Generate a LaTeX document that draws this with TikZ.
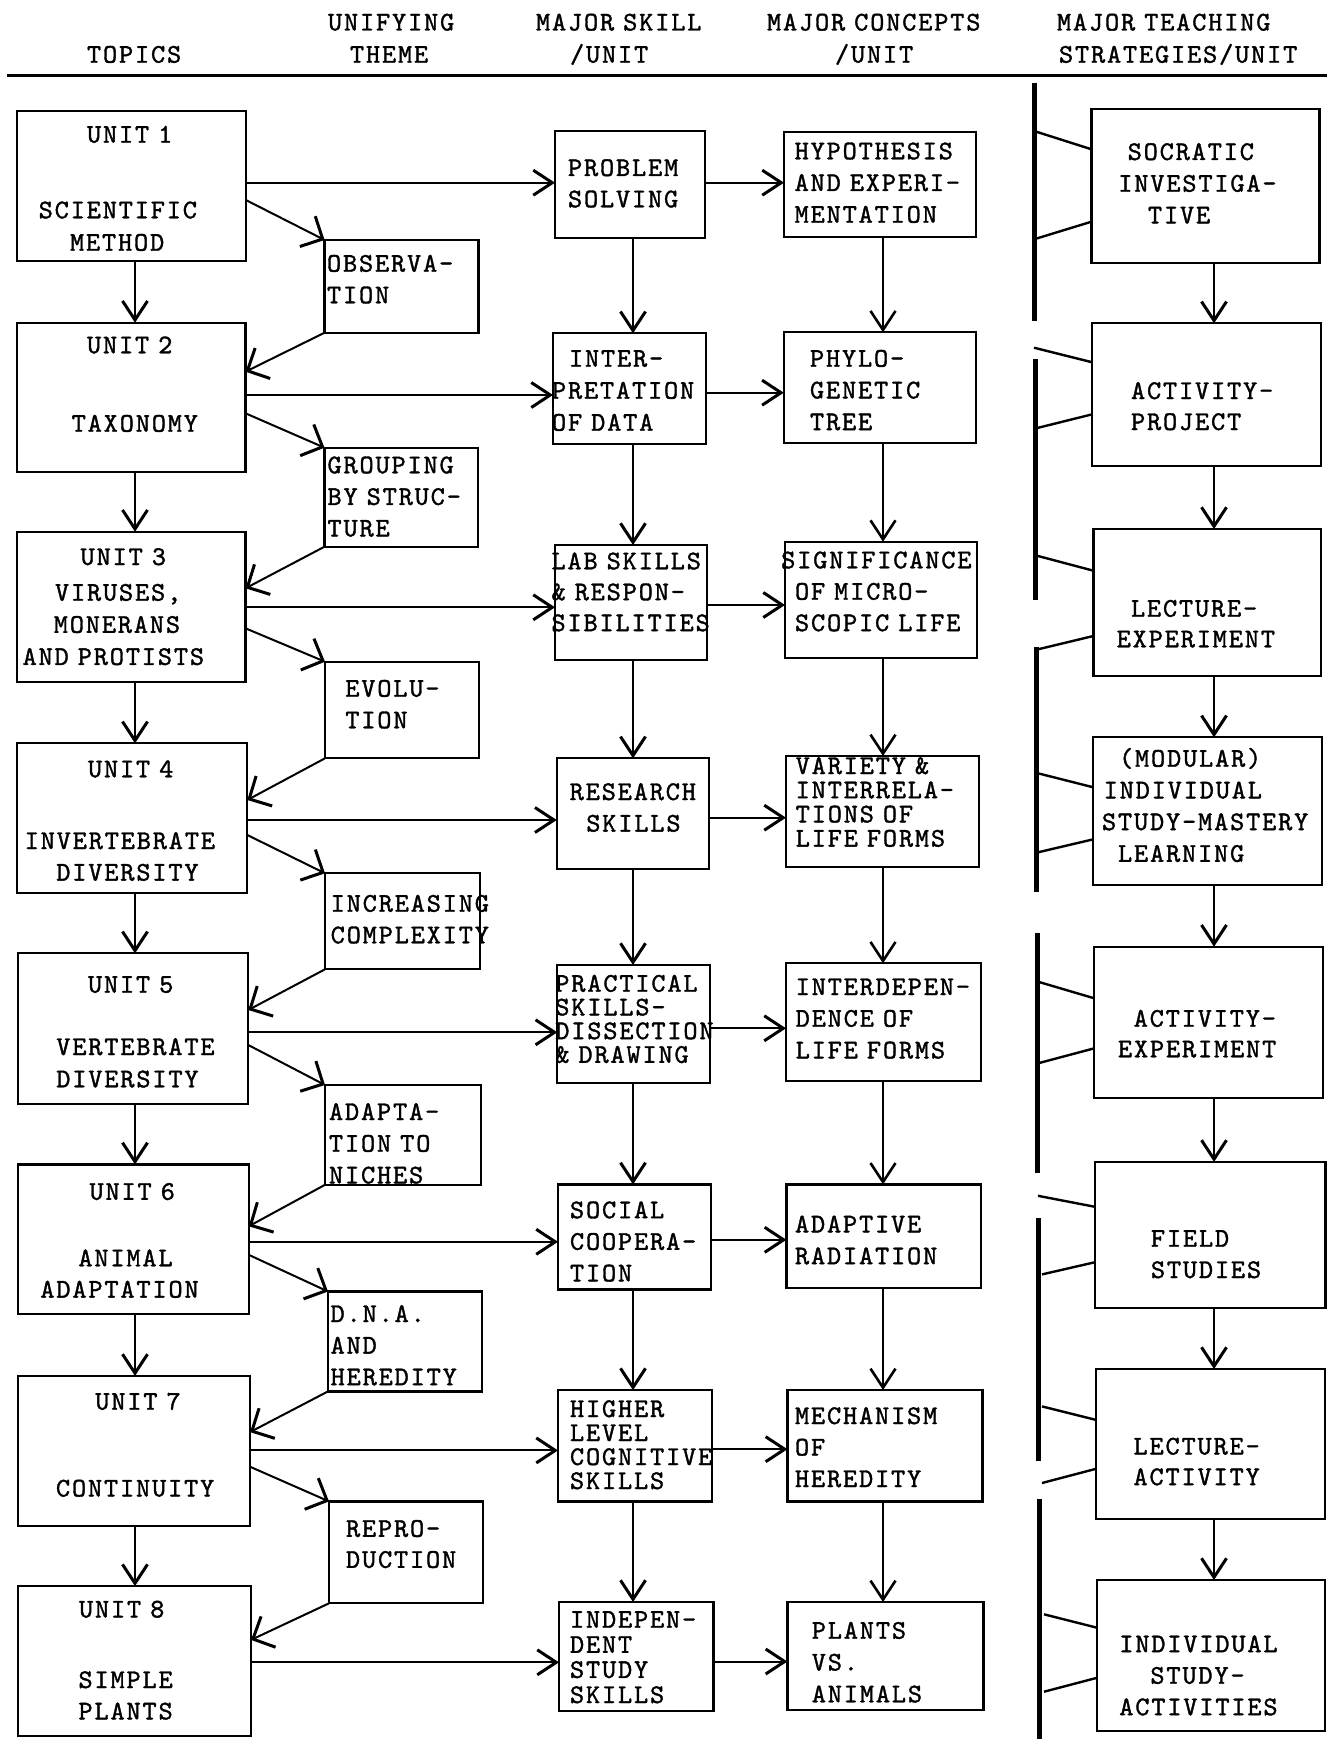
\documentclass[tikz,border=0pt]{standalone}
\usepackage{fontspec}
\newfontfamily\tw[FakeBold=1.3,LetterSpace=6.8]{lmmono10-regular.otf}
\usetikzlibrary{arrows.meta,calc}
\newcommand\myind[1]{\hspace*{#1pt}}
\newcommand\mkbox[5]{\node[box,minimum width={#4-#2},minimum height={#5-#3}] (#1) at ({(#2+#4)/2},{(#3+#5)/2}) {};}
\begin{document}
\begin{tikzpicture}[x=1pt,y=-1pt,
  box/.style={draw,line width=2.3pt,inner sep=0pt,outer sep=0pt},
  txt/.style={inner sep=0pt,outer sep=0pt,anchor=base west,text width=400pt,align=left,font=\tw\fontsize{27}{#1}\selectfont},
  txt/.default=31.6,
  arr/.style={line width=2pt,-{Straight Barb[length=19pt,width=25pt,line width=3pt]}},
  arrthin/.style={line width=1.4pt,-{Straight Barb[length=19pt,width=25pt,line width=2.6pt]}},
  diag/.style={line width=2pt,-{Straight Barb[length=17pt,width=34pt,line width=3pt]}},
  bar/.style={line width=5pt},
  tick/.style={line width=2.4pt},
  rule/.style={line width=3pt}]
\fill[white] (0,0) rectangle (1327,1739);
\useasboundingbox (0,0) rectangle (1327,1739);

% header
\node[txt] (hd1) at (87,62.7) {TOPICS};
\node[txt=32.2] (hd2) at (328,30.5) {UNIFYING\\\myind{22}THEME};
\node[txt=32.2] (hd3) at (536,30.5) {MAJOR SKILL\\\myind{34}/UNIT};
\node[txt=32.2] (hd4) at (767,30.5) {MAJOR CONCEPTS\\\myind{68}/UNIT};
\node[txt=32.2] (hd5) at (1057,30.5) {MAJOR TEACHING\\\myind{2}STRATEGIES/UNIT};
\coordinate (rl) at (7,76);
\coordinate (rr) at (1327,76);
\draw[rule] (rl) -- (rr);

% unit boxes
\mkbox{u1}{17}{110.7}{245.8}{261}
\mkbox{u2}{17}{322.7}{245.5}{472.3}
\mkbox{u3}{17}{531.7}{245.5}{681.7}
\mkbox{u4}{17.3}{743.3}{247.3}{893.3}
\mkbox{u5}{18.3}{953.3}{248.3}{1104}
\mkbox{u6}{17.9}{1164.4}{248.7}{1313.9}
\mkbox{u7}{18}{1375.9}{250}{1525.8}
\mkbox{u8}{18}{1586.1}{251}{1736}
% theme boxes
\mkbox{t1}{324.6}{240}{478.6}{332.7}
\mkbox{t2}{324.5}{447.7}{477.7}{546.7}
\mkbox{t3}{325}{661.7}{479}{758.3}
\mkbox{t4}{325}{873.3}{480}{969.3}
\mkbox{t5}{325}{1085}{481}{1184.8}
\mkbox{t6}{328}{1291.5}{482}{1391.4}
\mkbox{t7}{329}{1501.4}{483}{1603.3}
% skill boxes
\mkbox{s1}{555}{131}{705}{237.7}
\mkbox{s2}{553}{333.3}{706}{444}
\mkbox{s3}{555}{545}{707}{660}
\mkbox{s4}{556.7}{758.3}{709}{869}
\mkbox{s5}{557.3}{965}{710}{1083.3}
\mkbox{s6}{558}{1184.4}{711}{1289.5}
\mkbox{s7}{558}{1390.1}{712}{1501.4}
\mkbox{s8}{559}{1602}{713.6}{1711.2}
% concept boxes
\mkbox{c1}{784}{131.7}{976}{236.7}
\mkbox{c2}{783.8}{332.3}{976.3}{442.7}
\mkbox{c3}{785}{541.7}{977.3}{658.3}
\mkbox{c4}{786}{756}{979.3}{867.3}
\mkbox{c5}{786}{963.3}{980.7}{1080.7}
\mkbox{c6}{786.4}{1184.4}{981}{1288.3}
\mkbox{c7}{787.4}{1390}{982.6}{1501.4}
\mkbox{c8}{787.4}{1602}{983.6}{1710}
% strategy boxes
\mkbox{m1}{1091.5}{109}{1319.5}{263.3}
\mkbox{m2}{1092.3}{323.3}{1321.2}{465.7}
\mkbox{m3}{1093.4}{529}{1321}{676}
\mkbox{m4}{1093.3}{737.3}{1321.7}{885}
\mkbox{m5}{1094.3}{946.7}{1323.3}{1097.7}
\mkbox{m6}{1095}{1161.9}{1325.4}{1307.8}
\mkbox{m7}{1096}{1369}{1325}{1518.9}
\mkbox{m8}{1097}{1580}{1325}{1730.8}

% unit texts
\node[txt] (u1a) at (87,142.7) {UNIT 1};
\node[txt=32.4] (u1b) at (38.7,218.3) {SCIENTIFIC\\\myind{31.3}METHOD};
\node[txt] (u2a) at (87,353.3) {UNIT 2};
\node[txt] (u2b) at (71.7,431.7) {TAXONOMY};
\node[txt] (u3a) at (80.6,565) {UNIT 3};
\node[txt=32.1] (u3b) at (22.6,600.7) {\myind{32.4}VIRUSES,\\\myind{31.2}MONERANS\\AND PROTISTS};
\node[txt] (u4a) at (88,777.3) {UNIT 4};
\node[txt] (u4b) at (24.7,849) {INVERTEBRATE\\\myind{31.6}DIVERSITY};
\node[txt] (u5a) at (88,992.7) {UNIT 5};
\node[txt=32.3] (u5b) at (56.3,1055) {VERTEBRATE\\DIVERSITY};
\node[txt] (u6a) at (89.5,1199.8) {UNIT 6};
\node[txt=31.3] (u6b) at (40.4,1266.3) {\myind{38}ANIMAL\\ADAPTATION};
\node[txt] (u7a) at (95.3,1409.7) {UNIT 7};
\node[txt] (u7b) at (56,1496.5) {CONTINUITY};
\node[txt] (u8a) at (79,1617.5) {UNIT 8};
\node[txt=31.4] (u8b) at (78.5,1688) {SIMPLE\\PLANTS};
% theme texts
\node[txt] (t1t) at (327,271.7) {OBSERVA-\\TION};
\node[txt] (t2t) at (327.5,473.3) {GROUPING\\BY STRUC-\\TURE};
\node[txt] (t3t) at (345.3,696.7) {EVOLU-\\TION};
\node[txt] (t4t) at (330.7,911.7) {INCREASING\\COMPLEXITY};
\node[txt=31.7] (t5t) at (329,1120) {ADAPTA-\\TION TO\\NICHES};
\node[txt] (t6t) at (330.6,1322) {D.N.A.\\AND\\HEREDITY};
\node[txt=31] (t7t) at (346,1536.8) {REPRO-\\DUCTION};
% skill texts
\node[txt=31.3] (s1t) at (568,176) {PROBLEM\\SOLVING};
\node[txt=32] (s2t) at (552,366.7) {\myind{17}INTER-\\PRETATION\\OF DATA};
\node[txt=30.9] (s3t) at (551.5,569.3) {LAB SKILLS\\\& RESPON-\\SIBILITIES};
\node[txt] (s4t) at (569.7,800) {RESEARCH\\\myind{16.6}SKILLS};
\node[txt=23.7] (s5t) at (555.3,991.7) {PRACTICAL\\SKILLS-\\DISSECTION\\\& DRAWING};
\node[txt] (s6t) at (570,1218.2) {SOCIAL\\COOPERA-\\TION};
\node[txt=24] (s7t) at (570,1417) {HIGHER\\LEVEL\\COGNITIVE\\SKILLS};
\node[txt=25.1] (s8t) at (570,1627.7) {INDEPEN-\\DENT\\STUDY\\SKILLS};
% concept texts
\node[txt=31.7] (c1t) at (794.6,159.3) {HYPOTHESIS\\AND EXPERI-\\MENTATION};
\node[txt=31.7] (c2t) at (810,366.7) {PHYLO-\\GENETIC\\TREE};
\node[txt=31.4] (c3t) at (781.2,568.3) {SIGNIFICANCE\\\myind{13.8}OF MICRO-\\\myind{13.8}SCOPIC LIFE};
\node[txt=24.2] (c4t) at (795.7,774) {VARIETY \&\\INTERRELA-\\TIONS OF\\LIFE FORMS};
\node[txt=31.7] (c5t) at (795.7,995) {INTERDEPEN-\\DENCE OF\\LIFE FORMS};
\node[txt=31.8] (c6t) at (795,1232.4) {ADAPTIVE\\RADIATION};
\node[txt=31.5] (c7t) at (795,1424) {MECHANISM\\OF\\HEREDITY};
\node[txt=31.8] (c8t) at (811.8,1638.7) {PLANTS\\VS.\\ANIMALS};
% strategy texts
\node[txt=31.7] (m1t) at (1118.3,160) {\myind{9.4}SOCRATIC\\INVESTIGA-\\\myind{29.7}TIVE};
\node[txt=31] (m2t) at (1131,399) {ACTIVITY-\\PROJECT};
\node[txt=30.6] (m3t) at (1116.7,616.7) {\myind{14.3}LECTURE-\\EXPERIMENT};
\node[txt=31.7] (m4t) at (1102,766.7) {\myind{17}(MODULAR)\\\myind{1.7}INDIVIDUAL\\STUDY-MASTERY\\\myind{16}LEARNING};
\node[txt=30.6] (m5t) at (1118,1026.7) {\myind{15.7}ACTIVITY-\\EXPERIMENT};
\node[txt=31.3] (m6t) at (1150.9,1246.7) {FIELD\\STUDIES};
\node[txt=30.6] (m7t) at (1133.5,1454.5) {LECTURE-\\ACTIVITY};
\node[txt=31.5] (m8t) at (1119.3,1652.2) {INDIVIDUAL\\\myind{31.1}STUDY-\\ACTIVITIES};

% vertical arrows
\coordinate (vu) at (135,0);
\coordinate (vs) at (633,0);
\coordinate (vc) at (883,0);
\coordinate (vm) at (1214,0);
\foreach \a/\b in {u1/u2,u2/u3,u3/u4,u4/u5,u5/u6,u6/u7,u7/u8}
  \draw[arr] (\a.south -| vu) -- (\b.north -| vu);
\foreach \a/\b in {s1/s2,s2/s3,s3/s4,s4/s5,s5/s6,s6/s7,s7/s8}
  \draw[arr] (\a.south -| vs) -- (\b.north -| vs);
\foreach \a/\b in {c1/c2,c2/c3,c3/c4,c4/c5,c5/c6,c6/c7,c7/c8}
  \draw[arrthin] (\a.south -| vc) -- (\b.north -| vc);
\foreach \a/\b in {m1/m2,m2/m3,m3/m4,m4/m5,m5/m6,m6/m7,m7/m8}
  \draw[arr] (\a.south -| vm) -- (\b.north -| vm);

% horizontal arrows
\foreach \i/\ya/\yb in {1/182.7/182.7,2/395/392.7,3/607.3/605,4/820/817.7,5/1032.3/1028.3,6/1241.8/1239.8,7/1450.4/1449.2,8/1662.3/1661.5}{
  \coordinate (ha\i) at (0,\ya);
  \coordinate (hb\i) at (0,\yb);
  \draw[arr] (u\i.east |- ha\i) -- (s\i.west |- ha\i);
  \draw[arr] (s\i.east |- hb\i) -- (c\i.west |- hb\i);
}

% diagonal arrows unit -> theme and theme -> unit
\draw[diag] ($(u1.north east)+(0,89.3)$) -- (t1.north west);
\draw[diag] (t1.south west) -- ($(u2.north east)+(0,49)$);
\draw[diag] ($(u2.north east)+(0,90.6)$) -- (t2.north west);
\draw[diag] (t2.south west) -- ($(u3.north east)+(0,56.6)$);
\draw[diag] ($(u3.north east)+(0,96.6)$) -- (t3.north west);
\draw[diag] (t3.south west) -- ($(u4.north east)+(0,56.7)$);
\draw[diag] ($(u4.north east)+(0,91.7)$) -- (t4.north west);
\draw[diag] (t4.south west) -- ($(u5.north east)+(0,56.7)$);
\draw[diag] ($(u5.north east)+(0,91.7)$) -- (t5.north west);
\draw[diag] (t5.south west) -- ($(u6.north east)+(0,61.9)$);
\draw[diag] ($(u6.north east)+(0,90.4)$) -- (t6.north west);
\draw[diag] (t6.south west) -- ($(u7.north east)+(0,56.2)$);
\draw[diag] ($(u7.north east)+(0,90.8)$) -- (t7.north west);
\draw[diag] (t7.south west) -- ($(u8.north east)+(0,53.8)$);

% bracket bar segments
\coordinate (b1a) at (1034,82.7);   \coordinate (b1b) at (1034,320.7);
\coordinate (b2a) at (1035,359);    \coordinate (b2b) at (1035,600);
\coordinate (b3a) at (1036,646.7);  \coordinate (b3b) at (1036,891.7);
\coordinate (b4a) at (1037.5,932.7);\coordinate (b4b) at (1037.5,1173.3);
\coordinate (b5a) at (1038,1218.2); \coordinate (b5b) at (1038,1460.6);
\coordinate (b6a) at (1039,1499.3); \coordinate (b6b) at (1039,1739);
\foreach \i in {1,...,6} \draw[bar] (b\i a) -- (b\i b);

% ticks from bar to strategy boxes
\foreach \m/\xa/\ya/\da/\xb/\yb/\db in {
  m1/1034/131/40.3/1034/239.3/112.7,
  m2/1034/347.7/39/1036/428.3/91,
  m3/1038/556/41.7/1038/649.3/107,
  m4/1038/773.3/50/1038/852.3/102,
  m5/1038/981.7/51.6/1038/1063.3/101.6,
  m6/1038/1195.8/44.9/1042/1274.4/100.3,
  m7/1042/1406.4/50.9/1042/1483/99.8,
  m8/1044/1614.3/47.7/1044/1691.7/97.8}{
  \coordinate (ka\m) at (\xa,\ya);
  \coordinate (kb\m) at (\xb,\yb);
  \draw[tick] (ka\m) -- ($(\m.north west)+(0,\da)$);
  \draw[tick] (kb\m) -- ($(\m.north west)+(0,\db)$);
}
\end{tikzpicture}
\end{document}
